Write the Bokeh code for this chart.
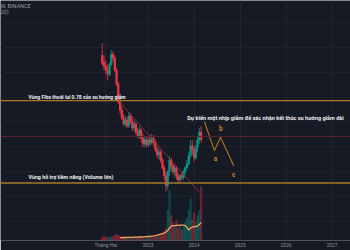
import pandas as pd
from bokeh.plotting import figure
from bokeh.models import Range1d, FixedTicker, Span, Label, ColumnDataSource
from bokeh.core.properties import value
from bokeh.embed import file_html
from bokeh.resources import INLINE

# ---------------- data ----------------
start_date = "2022-01-03"          # first 2-week candle
n_candles = 57
opens  = [186,179,175,171,167,177,187,183,171,157,139,131,123,117,121,115,125,119,113,117,
          109,105,111,103,97,101,96,101,98,103,99,91,86,89,81,73,65,55,69,81,
          75,69,73,65,61,65,63,69,73,77,85,95,91,83,93,101,109]
closes = [178,175,171,167,177,187,183,171,157,139,131,123,117,121,115,125,119,113,117,109,
          105,111,103,97,101,96,101,98,103,99,91,86,89,81,73,65,55,69,81,75,
          69,73,65,61,65,63,69,73,77,85,95,91,83,93,101,109,101]
highs  = [198,186,181,177,179,191,190,186,173,159,143,135,127,125,124,129,128,123,121,119,
          113,115,113,107,105,104,105,106,107,106,101,94,93,91,83,76,69,71,85,83,
          78,76,75,68,67,69,71,75,81,89,101,101,95,96,105,113,115]
lows   = [176,171,167,161,165,175,179,169,155,137,127,121,115,114,113,113,117,110,109,106,
          103,102,99,94,94,93,94,95,96,95,89,83,81,78,71,61,49,51,65,71,
          66,63,61,58,59,60,61,66,71,75,83,86,79,81,89,97,98]
volumes = [3,4,3,3,4,3,4,5,6,
           5,4,3,4,3,3,4,3,3,4,3,3,
           3,4,3,3,4,5,4,3,4,5,4,5,6,
           7,9,12,30,50,25,18,14,20,12,15,10,
           14,18,22,30,42,20,28,18,25,30,54]
volume_ma = [None]*10 + [2.8,2.9,3.0,3.0,3.1,3.1,3.2,3.2,3.3,3.3,3.4,
             3.5,3.6,3.7,3.8,3.9,4.0,4.2,4.4,4.6,5.0,5.4,6.0,6.5,
             6.8,7.5,8.5,10,12.5,14.5,15,15,15.2,15.2,15.4,15.5,15.5,15,13,10.5,
             12.5,13.5,14,14,14.5,16,18]

fibo_level = 140.5
support_level = 57.7
resistance_level = 104.5
trend_t = ["2022-05-10", "2024-02-10"]
trend_p = [140.5, 48.5]
wave_t = ["2024-03-23", "2024-06-11", "2024-07-29", "2024-11-12"]
wave_p = [119.3, 90.3, 103.7, 75.0]
wave_labels = ["a", "b", "c"]
wave_label_t = ["2024-06-19", "2024-08-01", "2024-11-12"]
wave_label_p = [81.7, 111.7, 65.3]

tick_pos = [25, 36, 48, 60, 72, 84]
tick_labels = ["Tháng Hai", "2023", "2024", "2025", "2026", "2027"]

# ---------------- helpers ----------------
def to_month(d):
    d = pd.Timestamp(d)
    return (d.year - 2020) * 12 + (d.month - 1) + (d.day - 1) / d.days_in_month

dates = pd.date_range(start_date, periods=n_candles, freq="14D")
xs = [to_month(d) for d in dates]
UP = "#089981"
DN = "#f23645"
colors = [UP if c >= o else DN for o, c in zip(opens, closes)]
src = ColumnDataSource(dict(x=xs, o=opens, c=closes, h=highs, l=lows,
                            top=[max(a, b) for a, b in zip(opens, closes)],
                            bot=[min(a, b) for a, b in zip(opens, closes)],
                            color=colors, vol=volumes,
                            vma=[float("nan") if v is None else v for v in volume_ma]))

BG = "#161a25"
p = figure(width=350, height=250, x_range=Range1d(-2.48, 88.82), y_range=Range1d(0, 241),
           output_backend="svg", toolbar_location=None, min_border=0,
           background_fill_color=BG, border_fill_color=BG, outline_line_color=None)
p.extra_y_ranges = {"vol": Range1d(0, 241)}
p.yaxis.visible = False

ax = p.xaxis[0]
ax.ticker = FixedTicker(ticks=tick_pos)
ax.major_label_overrides = {t: s for t, s in zip(tick_pos, tick_labels)}
ax.axis_line_color = None
ax.major_tick_line_color = None
ax.minor_tick_line_color = None
ax.major_tick_out = 0
ax.major_label_standoff = 1
ax.major_label_text_font = "Roboto"
ax.major_label_text_font_size = "5px"
ax.major_label_text_color = "#8b8f99"

p.xgrid.ticker = FixedTicker(ticks=tick_pos)
p.xgrid.grid_line_color = "#20242f"
p.ygrid.ticker = FixedTicker(ticks=[19, 44, 69, 94, 119, 144, 169, 194, 219])
p.ygrid.grid_line_color = "#1d212c"

# volume
p.vbar(x="x", top="vol", bottom=0, width=0.36, color="color", alpha=0.27,
       source=src, y_range_name="vol")
p.line(x="x", y="vma", color="#f2a45f", line_width=1.3, source=src, y_range_name="vol")

# horizontal levels
p.add_layout(Span(location=resistance_level, dimension="width", line_color="#5a2230", line_width=1))
p.add_layout(Span(location=fibo_level, dimension="width", line_color="#a57a2c", line_width=1.4))
p.add_layout(Span(location=support_level, dimension="width", line_color="#a57a2c", line_width=1.4))

# candles
p.segment(x0="x", y0="l", x1="x", y1="h", color="color", line_width=0.8, source=src)
p.vbar(x="x", top="top", bottom="bot", width=0.3, color="color", source=src)

# trend line
p.line([to_month(t) for t in trend_t], trend_p, color="#8e2f40", line_width=0.9)

# expected wave
p.line([to_month(t) for t in wave_t], wave_p, color="#a86f1c", line_width=1.2)
p.text([to_month(t) for t in wave_label_t], wave_label_p, text=wave_labels,
       text_color="#d1861f", text_font=value("Roboto"), text_font_size="6.5px",
       text_font_style="bold", text_align="center", text_baseline="middle")

# annotations
def note(txt, x, y, size="5px"):
    p.add_layout(Label(x=x, y=y, text=txt, text_color="#eceef2", text_font="Roboto",
                       text_font_size=size, text_font_style="bold",
                       text_baseline="middle"))

note("Vùng Fibo thoái lui 0.78 của xu hướng giảm", 4.83, 143.7)
note("Vùng hỗ trợ tiềm năng (Volume lớn)", 4.83, 63.7, "5.3px")
note("Dự kiến một nhịp giảm để xác nhận kết thúc xu hướng giảm dài", 46.23, 122.7, "5.55px")

p.add_layout(Label(x=0, y=235, x_units="screen", y_units="screen", text="W, BINANCE",
                   text_color="#9598a1", text_font="Roboto", text_font_size="5.5px",
                   text_baseline="middle"))
p.add_layout(Label(x=0, y=228.7, x_units="screen", y_units="screen", text="20)",
                   text_color="#9598a1", text_font="Roboto", text_font_size="5.5px",
                   text_baseline="middle"))

open("out.html", "w").write(file_html(p, INLINE))
